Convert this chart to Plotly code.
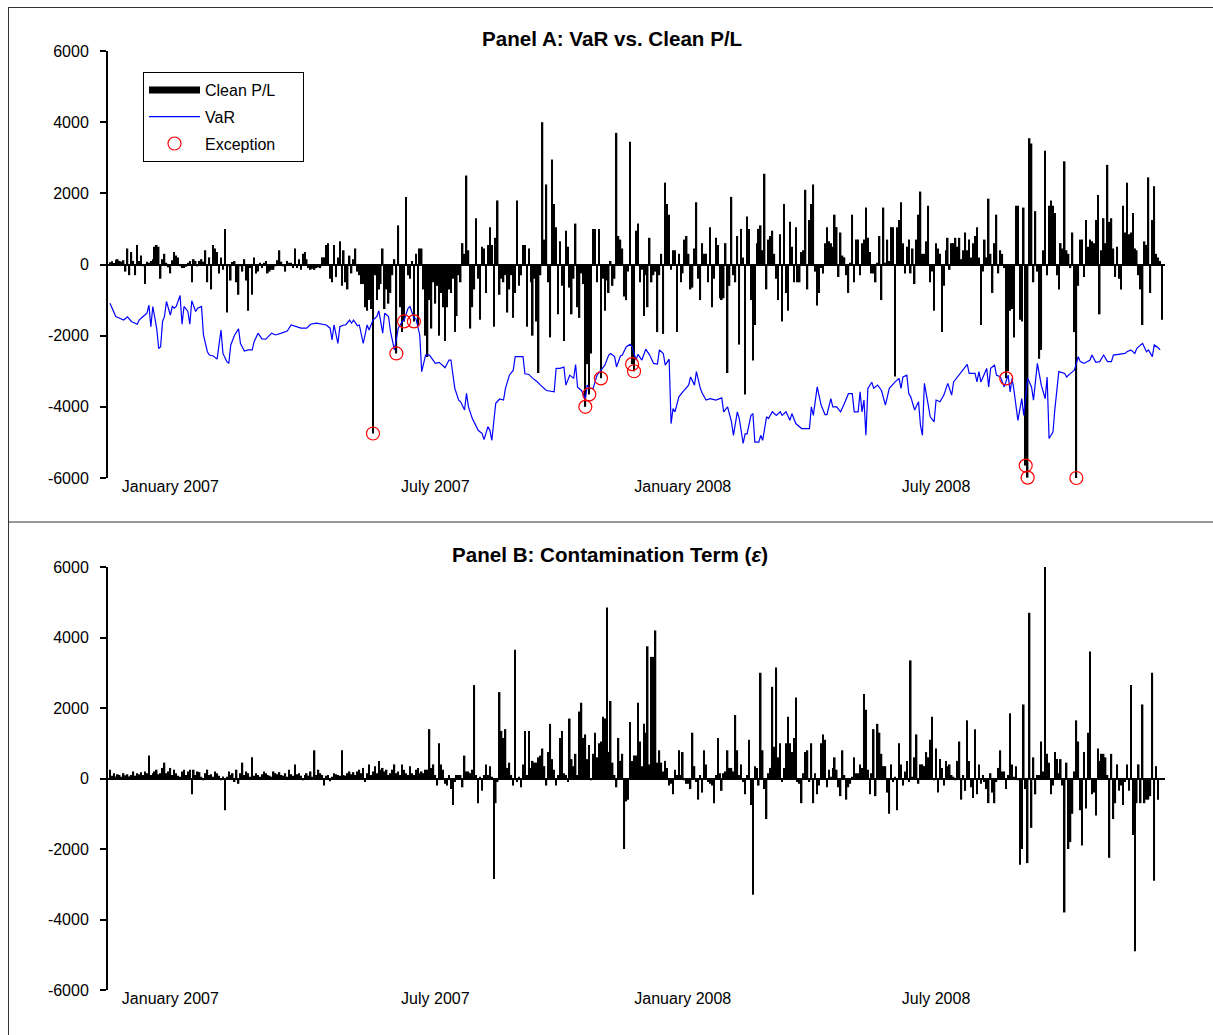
import plotly.graph_objects as go

# ---------------- DATA ----------------
# Panel A: daily clean P/L (trading-day index 0..540) in four segments
pl_seg1 = [60, 90, 40, 130, 150, 100, 80, 120, -200, 450, -300, 350, 100,
           -300, 550, 100, 250, -50, -550, 80, 50, 100, 150,
           500, 550, 500, -400, 150, 300, 50, -80, -250, 120,
           350, 250, 200, -50, -100, -100, -60, 50, 100, -500,
           150, 100, -50, 100, 150, 80, 400, -500, 200, -700,
           550, 450, 350, -250, 200, -150, 1000, -1350, -50, -450,
           70,
           100, -500, -850, -50, -200, 150, -450, -1300, -100, -850,
           200, -250, -200, 50, -100, 50, 100, -250, -200, -150,
           -150, -50, 120, 400, 80, -50, -200, 100, 50, 50,
           -100, 450, -100, 150, -150, 300, 350, 150, -100, -150,
           -120,
           -150, -100, -80, -100, 200, 200, 550, 600, -400, -500,
           550, -350, 200, 650, -600, 400, -500, -700, 250, -250,
           150, 450, -200, -300, -550, -550, -1200]
pl_seg2 = [-1300, -1000, -1250, -4750, -300, -1000, -700, -550, 450, -1250,
           -700, -1100, -800, -300, 150, -2500, 1100, -1200, -1900, -1600,
           1900, -300, -400, 100, -1600, 300, -1700, 450, 450, -700,
           -2000, -2600, -1000, -1800, -500, -1100, -600, -2000, -800, -1200,
           -2150, -1200, -700, -800, -400, -1900, -1450, -300,
           -500, 600, 300, 2500, 400, -1800, -1200, -700,
           1300, -400, -1550, 500, 450, -800, 550, 1050, 550,
           -1750, 750, 1800, -850, -400, -500, -300, -1350, -700,
           -300, -1500, -800, 1800, -600, -300, 550,
           550, -1750, 450, -500, -2000, -400, -1600, -3050, -300,
           4000, 700, 2250, -500, -2050, 2950, 1700, 1050, -1400, 650,
           -600, -2150, 950, 500, -650, -1400, -400, 1150, -1200, -1500,
           -250, -550, -4000, -2800, -3650, -2500, 1000, 1000, -500, 1000,
           -3200, -400, -1300, -450, -800, 100, -600, -400, 3700, 800,
           700, 450, -900, -1000, -200, 3450, -2800, -3000]
pl_seg3 = [950, 1150, -500, -150, -1450, -300, -1200, 750, -500,
           -300, -200, -1900, -300, 300, -1950, 2300, 1700, 1400, -150,
           400, 400, -1900, 300, -500, -250, 700, 800,
           300, -700, -650, 450, 1750, -400, -1000, 600,
           300, 300, -500, 1050, -1200, -400, 750, 550,
           -950, -1000, -950, 600, -3050, -600, 1900, -300, -500, 800,
           -2250, 1000, 200, -3650, 1350, 1000, -1000, -2700, -1700,
           600, 1000, 1100, 400, 2550, -700, 700, 800, 950, 300,
           -400, -1000, 850, -1600, 1700, -800, -1300, 1200, 500,
           -500, 1050, -500, -500, 350, 400, 2100, -700, 1250,
           1700, 2250, -200, -1150, -800, -100, -250, 600, 1050, 650,
           600, 500, 1400, 1050, -350, 900, 250, 200, -300, -800,
           50, 1400, -500, 700, 700, -300, 600, 700, 1600, 750,
           350, -250, -250, -500, 50, 800, -1000, 1600, 50, 700,
           100, 1050, 1050, -3150, 1050, 1250]
pl_seg4 = [1750, 600, -250, 500, 700, -250, 450, -550,
           700, 1400, 2050, 300, 300, 650, 1650, -500, -200, -1300,
           600, 450, 300, -1900, -600, 400, 750, -150,
           600, 600, 750, 500, 750, 150, 400, 900, 400,
           700, 200, 600, 800, 1050, 200, -1700, -200, 700,
           200, 1850, 300, -800, 600, 1400, -250, 400, 300, -100,
           -3200, -3000, -1300, -1250, -2050, 1650, 1650, -1550, -1600,
           1600, -5650, -5990, 3550, 3400, -500, 1500,
           -200, -2650, -2400, 400, 3200, -300, 1650, 1800, 1650, 1450,
           -300, -700, 600, 450, 2900, 400, 300, -100, 900,
           -1900, -6000, -600, 700, 700, -350, 1250, 500, 700, 650,
           600, 1250, 1950, -1400, 400, 1300, 600, 2800, 1200,
           1300, 450, -350, 500, -400, -700, 1650, 900, 2300,
           850, 900, 1450, 450, 400, -300, -700, -1700,
           650, 550, 2450, -800, 1250, 2200, 300, 200,
           100, -1550]

# Exception days, as positions inside segments 2 and 4
exc_pos_seg2 = [3, 15, 19, 24, 112, 114, 120, 136, 137]
exc_pos_seg4 = [54, 64, 65, 90]

# VaR (trading-day index, value)
var_day = [0, 1, 3, 5, 7, 9, 11, 14, 15, 17, 19, 20, 21, 22, 24, 25, 26, 27, 28, 29,
           31, 32, 33, 34, 36, 37, 38, 40, 41, 42, 44, 45, 47, 48, 50, 51, 53, 55, 57, 58,
           60, 61, 62, 64, 66, 67, 69, 71, 73, 74, 76, 78, 80, 83, 85, 88, 91, 93, 96, 98,
           101, 103, 106, 109, 111, 113, 114, 115, 117, 118, 120, 121, 123, 124, 125, 127, 128, 130, 132,
           133, 135, 137, 138, 140, 141, 143, 144, 146, 148, 150, 151, 153, 154, 156, 157, 159, 160, 162, 164,
           167, 169, 172, 174, 175, 177, 179, 180, 182, 183, 184, 186, 189, 191, 192, 194, 195, 196, 198, 200,
           202, 203, 205, 207, 208, 212, 213, 215, 217, 219, 221, 222, 224, 228, 229, 231, 233, 234, 236, 238,
           239, 240, 242, 244, 245, 246, 248, 250, 253, 254, 256, 257, 259, 260, 262, 263, 265, 267, 268,
           270, 271, 273, 275, 277, 279, 281, 282, 284, 285, 287, 288, 289, 290, 292, 294, 297, 298, 300, 301,
           303, 304, 306, 308, 311, 314, 315, 317, 319, 320, 322, 323, 325, 326, 327, 329, 330, 331, 333, 334,
           335, 337, 338, 340, 342, 344, 345, 347, 349, 350, 352, 355, 359, 360, 361, 363, 365, 367, 368, 370,
           371, 373, 375, 377, 379, 381, 382, 384, 385, 386, 387, 388, 389, 391, 392, 394, 396, 398, 400, 403, 404,
           405, 406, 407, 409, 410, 411, 413, 415, 416, 417, 418, 420, 421, 423, 424, 426, 428, 430, 432, 433,
           435, 437, 438, 440, 441, 444, 445, 446, 447, 449, 450, 451, 452, 454, 455, 457, 459, 461, 462, 463,
           464, 466, 468, 469, 471, 473, 474, 476, 478, 480, 481, 482, 484, 485, 487, 490, 491, 493, 495, 497,
           498, 500, 503, 504, 506, 508, 510, 512, 514, 515, 518, 521, 522, 524, 526, 527, 529, 530, 532, 533,
           535, 536, 538, 539]
var_val = [-1090, -1230, -1460, -1510, -1560, -1470, -1600, -1680, -1560, -1460, -1370, -1140, -1750, -1180, -1800, -2360, -2310, -1600, -1460, -1040,
           -1420, -1180, -1230, -1180, -870, -1680, -1180, -1320, -1680, -1020, -1320, -1230, -1180, -1980, -2450, -2545, -2570, -2660, -1840, -2500,
           -2730, -2780, -2260, -1980, -1810, -2220, -2430, -2400, -2400, -2170, -1930, -2090, -2100, -1930, -1980, -1930, -1870, -1700, -1750, -1790,
           -1790, -1680, -1650, -1670, -1700, -1790, -2120, -1700, -2220, -1750, -1700, -1700, -1560, -1650, -1560, -1720, -1700, -2220, -1700,
           -1840, -1560, -1460, -1300, -1930, -1370, -1460, -1890, -2400, -1790, -1600, -1560, -1230, -1180, -1510, -1510, -1980, -3010, -2545, -2545,
           -2780, -2750, -2900, -2685, -2685, -3480, -3810, -3860, -4090, -3620, -4000, -4330, -4660, -4750, -4920, -4560, -4660, -4940, -3900, -3780,
           -3810, -3480, -3110, -2970, -2590, -2590, -3070, -3090, -3200, -3280, -3390, -3450, -3540, -3580, -2920, -2920, -2880, -3390, -3110, -3200,
           -2810, -3450, -3540, -3770, -3390, -3480, -3480, -3110, -2920, -2830, -2545, -2500, -2590, -2880, -2570, -2545, -2310, -2240, -2310,
           -2685, -2525, -2685, -2380, -2545, -2780, -2800, -2400, -2500, -2830, -2660, -4470, -4050, -4140, -3720, -3580, -3390, -3160, -3390, -3010,
           -3480, -3620, -3810, -3770, -3810, -3750, -4140, -4000, -4420, -4800, -4140, -4330, -5030, -4760, -4760, -4240, -4190, -4990, -4990, -4800,
           -4940, -4280, -4330, -4140, -4240, -4140, -4240, -4140, -4380, -4190, -4470, -4610, -4610, -4000, -4240, -3440, -3950, -4220, -4220, -3770,
           -4000, -4000, -4140, -3900, -3630, -3630, -4140, -4140, -3580, -4140, -3810, -4800, -3480, -3310, -3480, -3390, -3540, -3950, -3480, -3300, -3250,
           -3200, -3480, -3160, -3110, -3630, -3720, -4090, -3860, -4520, -4800, -3340, -3950, -4280, -4420, -3810, -3860, -3670, -3340, -3670, -3300,
           -3160, -3010, -2920, -2810, -3060, -3060, -3300, -3010, -3300, -3010, -2920, -3440, -2920, -2830, -3110, -3160, -3440, -3110, -3580, -3200,
           -3540, -4380, -3770, -4240, -3200, -3440, -3810, -2780, -3390, -3770, -3160, -4890, -4710, -4050, -3010, -3060, -3160, -3060, -2970, -2590,
           -2730, -2780, -2685, -2545, -2750, -2730, -2545, -2730, -2730, -2545, -2525, -2500, -2450, -2400, -2500, -2360, -2260, -2220, -2450, -2400,
           -2590, -2260, -2340, -2400]

# Panel B: contamination term, daily
ct_seg1 = [250, 80, 150, 60, 120, 100, 50, 150, 90, 120,
           60, 100, 200, 80, 150, 120, 180, 100, 200, 150,
           650, 100, 150, 200, 250, 120, 150, 300, 450, 150,
           200, 300, 100, 250, 150, 80, 50, 200, 250, 100,
           200, 250, -450, 250, 100, 200, 180, 50, -50, 150,
           250, 100, 120, 50, 200, 150, 80, -50, 60, -900,
           50, 200, 100, 150, -100, 250, -150, 150, 450, 100,
           200, 150, 50, 600, 80, 150, 100, 50, 120, 200,
           150, 100, 80, 50, 200, 150, 120, 180, 100, 80,
           150, 50, 250, 120, 80, 400, 120, 150, 80, -50,
           100, 150, 80, 200, 50, 800, 100, 250, 150, 100,
           -200, 80, 100, -80, 50, 150, 120, 100, 80, 800,
           100, 80, 150, 200, 120, 180, 100, 200, 250, 150,
           300, -100]
ct_seg2 = [150, 400, 100, 200, 350, 150, 500, 250, 300, 200,
           250, 100, 150, 250, 400, 150, 200, 100, 400, 250,
           150, 100, 350, 150, 100, 250, 300, 150, 200, 150,
           250, 250, 1400, 300, 400, 100, -200, 1000, 400, 250,
           -150, -200, 100, -300, -750, -100, 100, 100, 100, -250,
           650, 200, 200, 150, 250, 2650, 100, -700, 50, -350,
           100, 400, 100, 350, 50, -2850, -700, -100, 2450, 1350,
           1150, 1400, 300, 450, 100, -200, 3650, -100, 50, -250,
           400, 1350, 100, 1350, 300, 500, 450, 450, 600, 650,
           850, 350, -200, 750, 1550, 550, 250, -200, 100, 1150,
           1350, 150, 100, -100, 1700, 550, 350, 700, 100, 1900,
           2150, 1150, 1250, 550, 950, -50, 700, 1300, 600, 1000,
           1050, 1750, 1700, 4850, 750, 2200, 450, 100, -250, 1150,
           500, 700, -2000, -650, -600, 1600]
ct_seg3 = [500, 650, 650, 2150, 1050, 350, 1550, 1300, 3750, 400,
           3450, 3450, 4200, 450, 800, 450, 200, 500, 300, -200,
           -150, -450, 250, 100, 800, 100, 750, -50, -150, -150,
           -300, 1300, 350, -100, -600, 100, -400, 800, 400, -100,
           -150, -200, -700, 100, 1150, 150, -350, 150, 200, 800,
           300, 300, 200, 1800, 800, 100, 400, -100, -450, 100,
           1100, -750, -3300, 350, 300, -200, 3000, 800, -300, -1150,
           150, 300, 2600, 900, 3150, 600, 1000, -100, 300, 1000,
           1750, 1000, 750, 1150, 2300, -100, -150, -700, 150, 750,
           800, -100, 1000, -700, 150, -450, -200, 1000, 1250, 1100,
           -250, 250, 50, 300, 600, 250, -250, -500, 800, 100,
           -600, -250, -150, 50, 600, 150, 150, 400, 300, 2400,
           1950, 250, -450, 150, 1400, -500, 1550, 1300, 700, 350,
           350, -400, -1000, 400, -100, 50, -900]
ct_seg4 = [1000, 400, -200, 200, 500, -100, 3350, 50, 600, 1250,
           -150, 400, 400, 350, 750, 600, 1100, 1750, -50, 850,
           -400, 550, 300, -200, 500, 350, 400, 100, 50, -50,
           500, 1050, -600, 100, -350, 1650, 500, -250, -550, 1400,
           -450, 400, -150, 100, -100, -300, -700, 150, -400, -700,
           -100, 300, 800, 200, 200, -300, 100, 1850, 400, 50,
           350, -50, -2450, -2000, 2100, -300, -2400, 4700, -1400, 600,
           -450, 100, 100, 1050, 200, 6000, 700, 450, -450, -200,
           750, 550, 150, 550, -200, -3800, 450, -2000, -1800, -1000,
           200, 1650, 1050, -900, -1900, 750, -850, 1300, 3600, -450,
           -400, -1050, 850, 500, 700, 700, 600, 100, -2250, 700,
           -1150, -700, 400, -350, -200, -750, -100, 400, -350, 2650,
           -1600, -4900, -700, 400, -700, 2100, -700, -600, -600, -500,
           3000, -2900, 350, -600]

y_ticks = [6000, 4000, 2000, 0, -2000, -4000, -6000]
x_tick_days = [31, 167, 294, 424]
x_tick_labels = ["January 2007", "July 2007", "January 2008", "July 2008"]

# ---------------- BUILD ----------------
pl = pl_seg1 + pl_seg2 + pl_seg3 + pl_seg4
pl_days = list(range(len(pl)))
off2 = len(pl_seg1)
off4 = len(pl_seg1) + len(pl_seg2) + len(pl_seg3)
exc_days = [off2 + p for p in exc_pos_seg2] + [off4 + p for p in exc_pos_seg4]
exc_vals = [pl[d] for d in exc_days]

ct = ct_seg1 + ct_seg2 + ct_seg3 + ct_seg4
ct_days = list(range(len(ct)))

W, H = 1213, 1035
def px(x):
    return x / W
def py(y):
    return 1 - y / H

FONT = "Arial, Liberation Sans, sans-serif"
NB = "\u00a0"

fig = go.Figure()
# legend-only entry for the P/L bars (thick black bar symbol)
fig.add_trace(go.Scatter(x=[None], y=[None], mode="lines", name="Clean P/L",
                         line=dict(color="black", width=7), xaxis="x", yaxis="y"))
fig.add_trace(go.Bar(x=pl_days, y=pl, marker=dict(color="black", line=dict(width=0)),
                     width=0.8, showlegend=False, xaxis="x", yaxis="y"))
fig.add_trace(go.Scatter(x=var_day, y=var_val, mode="lines", name="VaR",
                         line=dict(color="#0000FF", width=1.2), xaxis="x", yaxis="y"))
fig.add_trace(go.Scatter(x=exc_days, y=exc_vals, mode="markers", name="Exception" + NB * 5,
                         cliponaxis=False,
                         marker=dict(symbol="circle-open", color="#FF0000", size=13,
                                     line=dict(width=1.2, color="#FF0000")),
                         xaxis="x", yaxis="y"))
fig.add_trace(go.Bar(x=ct_days, y=ct, marker=dict(color="black", line=dict(width=0)),
                     width=0.8, showlegend=False, xaxis="x2", yaxis="y2"))

xr = [-1, 541.5]
xdom = [px(108), px(1165)]
common_x = dict(range=xr, showline=False, showgrid=False, zeroline=False, ticks="",
                automargin=False, ticklabelstandoff=-3,
                tickvals=x_tick_days, ticktext=x_tick_labels,
                tickfont=dict(family=FONT, size=16, color="black"))
common_y = dict(range=[-6000, 6000], tickvals=y_ticks, ticktext=[str(v) for v in y_ticks],
                automargin=False,
                showline=True, linecolor="black", linewidth=2, ticks="outside",
                ticklen=6, tickwidth=2, tickcolor="black", showgrid=False,
                ticklabelstandoff=8,
                zeroline=True, zerolinecolor="black", zerolinewidth=2,
                tickfont=dict(family=FONT, size=16, color="black"))

fig.update_layout(
    template="none",
    width=W, height=H, margin=dict(l=0, r=0, t=0, b=0, pad=0, autoexpand=False),
    paper_bgcolor="white", plot_bgcolor="white",
    xaxis=dict(domain=xdom, anchor="y", **common_x),
    yaxis=dict(domain=[py(478), py(51)], anchor="x", **common_y),
    xaxis2=dict(domain=xdom, anchor="y2", **common_x),
    yaxis2=dict(domain=[py(990), py(567)], anchor="x2", **common_y),
    showlegend=True,
    legend=dict(x=px(143), y=py(72), xanchor="left", yanchor="top",
                bgcolor="white", bordercolor="black", borderwidth=1,
                font=dict(family=FONT, size=16, color="black"),
                itemwidth=51, tracegroupgap=3, traceorder="grouped"),
    annotations=[
        dict(text="<b>Panel A: VaR vs. Clean P/L</b>", x=px(612), y=py(39),
             xref="paper", yref="paper", showarrow=False, xanchor="center", yanchor="middle",
             font=dict(family=FONT, size=20.6, color="black")),
        dict(text="<b>Panel B: Contamination Term (<i>ε</i>)</b>", x=px(610), y=py(554),
             xref="paper", yref="paper", showarrow=False, xanchor="center", yanchor="middle",
             font=dict(family=FONT, size=20.6, color="black")),
    ],
    shapes=[
        dict(type="line", xref="paper", yref="paper", x0=px(8.5), x1=px(8.5), y0=py(7), y1=0,
             line=dict(color="#333333", width=1)),
        dict(type="line", xref="paper", yref="paper", x0=px(8), x1=1, y0=py(7.5), y1=py(7.5),
             line=dict(color="#333333", width=1)),
        dict(type="line", xref="paper", yref="paper", x0=px(8), x1=1, y0=py(522), y1=py(522),
             line=dict(color="#333333", width=1)),
    ],
)
for i, tr in enumerate(fig.data):
    tr.legendgroup = "g%d" % i

fig.write_html(
    "out.html",
    config={"displayModeBar": False},
    post_script=(
        "document.documentElement.style.margin='0';document.documentElement.style.overflow='hidden';"
        "document.body.style.margin='0';document.body.style.padding='0';document.body.style.overflow='hidden';"
        "var gd=document.getElementById('{plot_id}');gd.style.position='absolute';"
        "gd.style.top='0px';gd.style.left='0px';"
    ),
)
